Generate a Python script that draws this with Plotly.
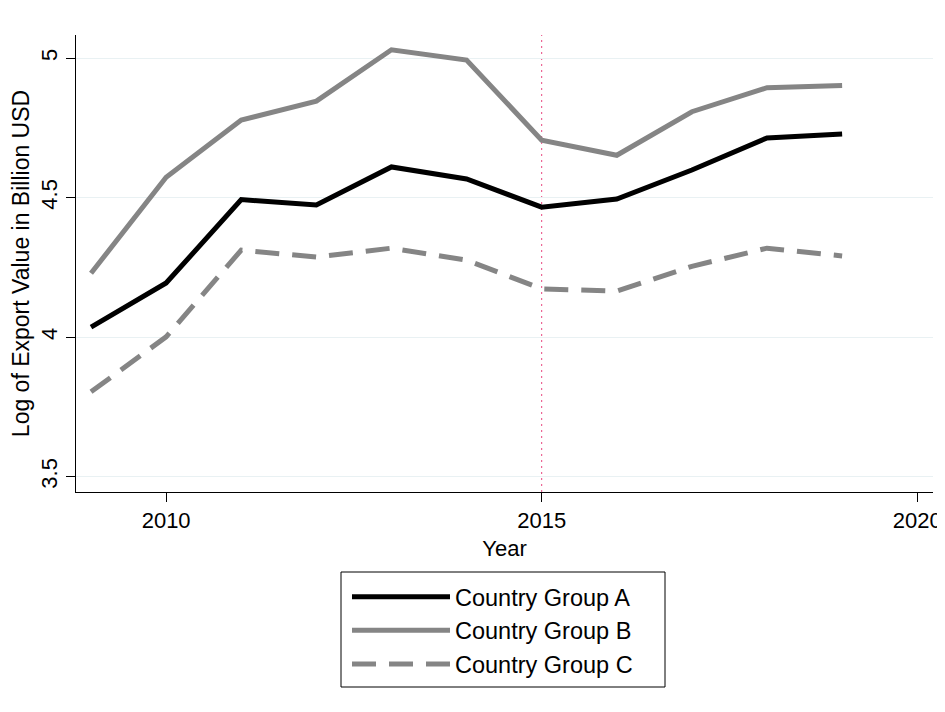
import plotly.graph_objects as go

years = [2009, 2010, 2011, 2012, 2013, 2014, 2015, 2016, 2017, 2018, 2019]
group_a = [4.036, 4.194, 4.493, 4.474, 4.610, 4.567, 4.466, 4.495, 4.599, 4.714, 4.728]
group_b = [4.229, 4.573, 4.778, 4.846, 5.030, 4.993, 4.706, 4.652, 4.808, 4.894, 4.902]
group_c = [3.804, 4.001, 4.312, 4.287, 4.319, 4.276, 4.173, 4.165, 4.254, 4.319, 4.291]
series_names = ["Country Group A", "Country Group B", "Country Group C"]
x_ticks = [2010, 2015, 2020]
y_ticks = [3.5, 4, 4.5, 5]
y_tick_labels = ["3.5", "4", "4.5", "5"]
event_year = 2015

FONT = "Liberation Sans, Arial, Helvetica, sans-serif"

# page body has an 8px margin; figure is sized so it fits the 945x712 window
W, H = 937, 704
L, R, T, B = 68, 12, 27, 220
PW, PH = W - L - R, H - T - B
PB = H - B  # plot bottom in figure pixels


def px_x(v):
    return (v - L) / PW


def px_y(v):
    return (PB - v) / PH


fig = go.Figure()
fig.add_trace(go.Scatter(x=years, y=group_a, mode="lines", name=series_names[0],
                         line=dict(color="#000000", width=5)))
fig.add_trace(go.Scatter(x=years, y=group_b, mode="lines", name=series_names[1],
                         line=dict(color="#858585", width=5)))
fig.add_trace(go.Scatter(x=years, y=group_c, mode="lines", name=series_names[2],
                         line=dict(color="#858585", width=5, dash="24px,13px")))

fig.add_vline(x=event_year, line=dict(color="#E8487F", width=1, dash="2px,4px"), layer="below")

# legend frame
fig.add_shape(type="rect", xref="paper", yref="paper",
              x0=px_x(333), x1=px_x(657), y0=px_y(679), y1=px_y(564),
              line=dict(color="black", width=1), fillcolor="white", layer="above")

fig.update_layout(
    width=W, height=H,
    paper_bgcolor="white", plot_bgcolor="white",
    margin=dict(l=L, r=R, t=T, b=B, autoexpand=False),
    font=dict(family=FONT, size=22, color="black"),
    showlegend=True,
    legend=dict(
        x=px_x(339), y=px_y(567), xanchor="left", yanchor="top",
        borderwidth=0, bgcolor="rgba(0,0,0,0)",
        font=dict(family=FONT, size=23.5, color="black"),
        itemwidth=98, tracegroupgap=0,
    ),
    xaxis=dict(
        range=[2008.8, 2020.21], tickvals=x_ticks, ticks="outside", ticklen=9,
        tickcolor="black", showline=True, linecolor="black", linewidth=1,
        showgrid=False, zeroline=False,
        title=dict(text="Year", font=dict(size=22), standoff=8),
        tickfont=dict(size=22),
    ),
    yaxis=dict(
        range=[3.445, 5.083], tickvals=y_ticks, ticktext=y_tick_labels, tickangle=-90,
        ticks="outside", ticklen=9, tickcolor="black", showline=True, linecolor="black",
        linewidth=1, showgrid=True, gridcolor="#E9F1F3", gridwidth=1, zeroline=False,
        title=dict(text="Log of Export Value in Billion USD", font=dict(size=23), standoff=6),
        tickfont=dict(size=22),
    ),
)

fig.write_html("out.html")
